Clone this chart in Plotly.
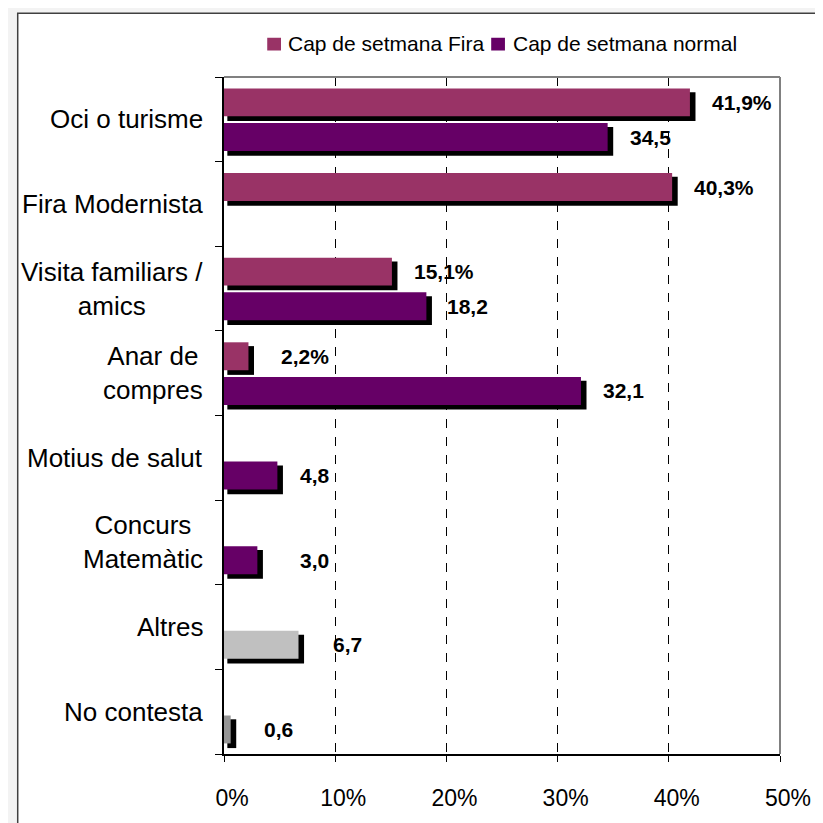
import plotly.graph_objects as go

# ---------------- data ----------------
categories = ["Oci o turisme", "Fira Modernista", "Visita familiars /<br>amics",
              "Anar de<br>compres", "Motius de salut", "Concurs<br>Matemàtic",
              "Altres", "No contesta"]
fira_values = [41.9, 40.3, 15.1, 2.2, None, None, None, None]
normal_values = [34.5, None, 18.2, 32.1, 4.8, 3.0, 6.7, 0.6]
fira_labels = ["41,9%", "40,3%", "15,1%", "2,2%", None, None, None, None]
normal_labels = ["34,5", None, "18,2", "32,1", "4,8", "3,0", "6,7", "0,6"]
x_tick_values = [0, 10, 20, 30, 40, 50]
x_tick_labels = ["0%", "10%", "20%", "30%", "40%", "50%"]
series_names = ["Cap de setmana Fira", "Cap de setmana normal"]

# ---------------- style ----------------
FIRA_COLOR = "#993366"
NORMAL_COLOR = "#660066"
normal_colors = [NORMAL_COLOR] * 6 + ["#C0C0C0", "#969696"]
FONT = "Liberation Sans, Arial, sans-serif"
fira_gaps = [20, 20, 20, 31, 0, 0, 0, 0]          # label offsets in px
normal_gaps = [20, 0, 19, 20, 21, 41, 32, 31]
FIRA_OFF, NORMAL_OFF, BAR_W = -0.20, 0.21, 0.33
SH_DY, SH_BASE, SH_EXTRA = 0.05, 0.3, 0.5

# the page body adds an 8 px margin, so the figure is laid out in
# coordinates shifted by 8 px from the screen
OFF = 8
W, H = 823 - OFF, 823 - OFF
ML, MT = 224 - OFF, 77 - OFF
MR, MB = W - (790 - OFF), H - (767 - OFF)
PW, PH = W - ML - MR, H - MT - MB

n = len(categories)
fira_y = [i + FIRA_OFF for i in range(n)]
normal_y = [i + NORMAL_OFF for i in range(n)]


def shadow(vals, ys):
    return go.Bar(
        orientation="h",
        x=[(v + SH_EXTRA - SH_BASE) if v is not None else None for v in vals],
        base=SH_BASE,
        y=[y + SH_DY for y in ys],
        width=BAR_W + 0.01,
        marker=dict(color="#000000", line=dict(width=0)),
        showlegend=False, hoverinfo="skip",
    )


fig = go.Figure()
fig.add_trace(shadow(fira_values, fira_y))
fig.add_trace(shadow(normal_values, normal_y))
fig.add_trace(go.Bar(orientation="h", x=fira_values, y=fira_y, width=BAR_W,
                     name=series_names[0],
                     marker=dict(color=FIRA_COLOR, line=dict(width=0)),
                     showlegend=False))
fig.add_trace(go.Bar(orientation="h", x=normal_values, y=normal_y, width=BAR_W,
                     name=series_names[1],
                     marker=dict(color=normal_colors, line=dict(width=0)),
                     showlegend=False))

annotations = []
# category labels
for i, c in enumerate(categories):
    annotations.append(dict(
        text=c, xref="paper", x=0, xshift=-19, xanchor="right", align="center",
        yref="y", y=i, yanchor="middle", showarrow=False,
        font=dict(family=FONT, size=26, color="#000000")))
# data labels
for vals, labs, ys, gaps in ((fira_values, fira_labels, fira_y, fira_gaps),
                             (normal_values, normal_labels, normal_y, normal_gaps)):
    for v, lab, y, g in zip(vals, labs, ys, gaps):
        if v is None:
            continue
        annotations.append(dict(
            text="<b>%s</b>" % lab, xref="x", x=v, xshift=g, xanchor="left",
            yref="y", y=y, yanchor="middle", showarrow=False,
            font=dict(family=FONT, size=21, color="#000000")))


def px_x(p):
    return (p - OFF - ML) / PW


def px_y(p):
    return (H - MB - (p - OFF)) / PH


# manual legend (screen pixel positions)
legend_items = [(268, 287, FIRA_COLOR, series_names[0]),
                (496, 516, NORMAL_COLOR, series_names[1])]
shapes = [
    # outer chart frame
    dict(type="rect", xref="paper", yref="paper",
         x0=px_x(14), x1=px_x(850), y0=px_y(850), y1=px_y(12),
         line=dict(color="#404040", width=1.5), fillcolor="#FFFFFF", layer="below"),
    # plot area border (top & right)
    dict(type="line", xref="paper", yref="paper", x0=0, x1=1, y0=1, y1=1,
         line=dict(color="#808080", width=2), layer="above"),
    dict(type="line", xref="paper", yref="paper", x0=1, x1=1, y0=0, y1=1,
         line=dict(color="#808080", width=2), layer="above"),
]
for sx, tx, col, name in legend_items:
    shapes.append(dict(type="rect", xref="paper", yref="paper",
                       x0=px_x(sx), x1=px_x(sx + 14), y0=px_y(50), y1=px_y(37),
                       fillcolor=col, line=dict(width=0)))
    annotations.append(dict(text=name, xref="paper", x=px_x(tx), xanchor="left",
                            yref="paper", y=px_y(43), yanchor="middle",
                            showarrow=False,
                            font=dict(family=FONT, size=21, color="#000000")))

fig.update_layout(
    width=W, height=H,
    margin=dict(l=ML, r=MR, t=MT, b=MB, pad=0),
    paper_bgcolor="#F3F3F3", plot_bgcolor="#FFFFFF",
    barmode="overlay", showlegend=False,
    font=dict(family=FONT, color="#000000"),
    annotations=annotations, shapes=shapes,
    xaxis=dict(range=[0, 50], tickvals=x_tick_values, ticktext=x_tick_labels,
               ticks="outside", ticklen=6, tickcolor="#000000",
               ticklabelstandoff=17, ticklabelshift=8,
               tickfont=dict(family=FONT, size=23, color="#000000"),
               showgrid=True, gridcolor="#000000", griddash="dash", gridwidth=1,
               showline=True, linecolor="#000000", linewidth=1.5,
               zeroline=False, fixedrange=True),
    yaxis=dict(range=[n - 0.5, -0.5], tickvals=[i - 0.5 for i in range(n + 1)],
               showticklabels=False, ticks="outside", ticklen=7,
               tickcolor="#000000", showgrid=False, zeroline=False,
               showline=True, linecolor="#000000", linewidth=1.5,
               fixedrange=True),
)

fig.write_html("out.html")
